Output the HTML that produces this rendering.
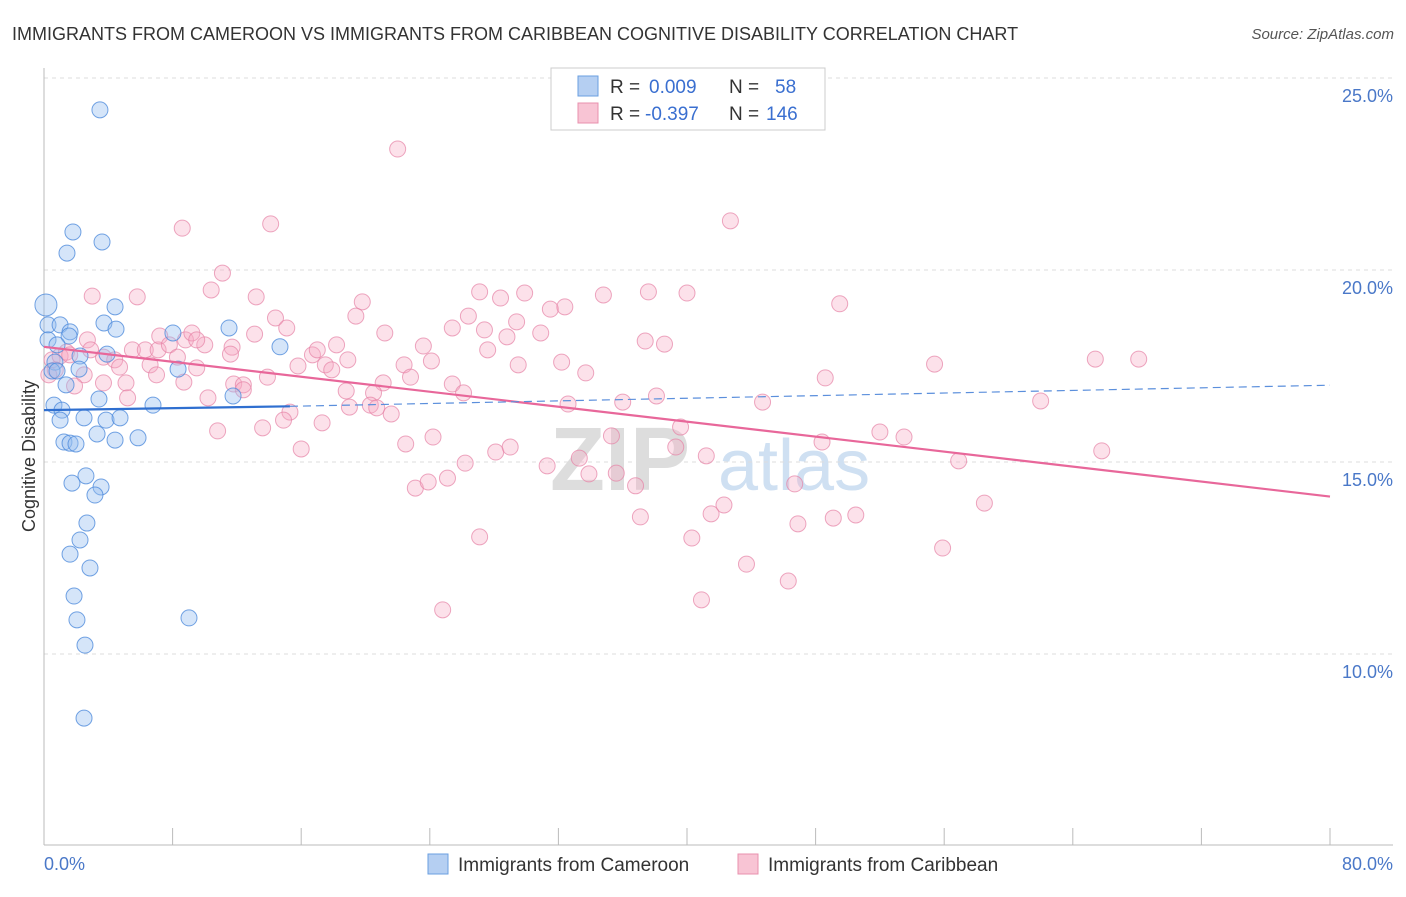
<!DOCTYPE html>
<html><head><meta charset="utf-8"><style>
body{margin:0;background:#fff;font-family:"Liberation Sans",sans-serif}
svg text{font-family:"Liberation Sans",sans-serif}
</style></head><body>
<svg id="chart" width="1406" height="892" viewBox="0 0 1406 892">
<text x="12" y="40" font-size="18" fill="#333">IMMIGRANTS FROM CAMEROON VS IMMIGRANTS FROM CARIBBEAN COGNITIVE DISABILITY CORRELATION CHART</text>
<text x="1394" y="39" font-size="15" fill="#555" font-style="italic" text-anchor="end">Source: ZipAtlas.com</text>
<g><text x="550" y="490" font-size="90" fill="#ddd" font-family="Liberation Serif" font-weight="bold">ZIP</text><text x="718" y="490" font-size="72" fill="#cfe0f2">atlas</text></g>
<g id="grid"></g>
<g id="axes"></g>
<g id="marks"></g>
<text x="35" y="456" font-size="18" fill="#333" text-anchor="middle" transform="rotate(-90 35 456)">Cognitive Disability</text>
<text x="44" y="870" font-size="18" fill="#4a78c8">0.0%</text>
<text x="1393" y="870" font-size="18" fill="#4a78c8" text-anchor="end">80.0%</text>
<g>
<rect x="551" y="68" width="274" height="62" fill="#fff" stroke="#ccc"/>
<rect x="578" y="76" width="20" height="20" fill="#b5cff2" stroke="#6a9fe0"/>
<rect x="578" y="103" width="20" height="20" fill="#f8c4d4" stroke="#e890ae"/>
<text x="610" y="93" font-size="19" fill="#333">R =</text><text x="649" y="93" font-size="19" fill="#3a6fd0">0.009</text>
<text x="729" y="93" font-size="19" fill="#333">N =</text><text x="775" y="93" font-size="19" fill="#3a6fd0">58</text>
<text x="610" y="120" font-size="19" fill="#333">R =</text><text x="645" y="120" font-size="19" fill="#3a6fd0">-0.397</text>
<text x="729" y="120" font-size="19" fill="#333">N =</text><text x="766" y="120" font-size="19" fill="#3a6fd0">146</text>
</g>
<g>
<rect x="428" y="854" width="20" height="20" fill="#b5cff2" stroke="#6a9fe0"/>
<text x="458" y="871" font-size="19" fill="#333">Immigrants from Cameroon</text>
<rect x="738" y="854" width="20" height="20" fill="#f8c4d4" stroke="#e890ae"/>
<text x="768" y="871" font-size="19" fill="#333">Immigrants from Caribbean</text>
</g>
</svg>
<script>
const yTicks=[10,15,20,25];
const yTickLabels=["10.0%","15.0%","20.0%","25.0%"];
const xTicks=[0,8,16,24,32,40,48,56,64,72,80];
const blueX=[3.48,1.8,3.61,1.43,0.12,4.42,0.25,1.0,3.73,4.48,1.62,1.56,8.02,11.51,0.25,0.81,3.92,2.24,0.68,0.5,0.81,8.34,2.18,1.37,14.68,11.76,3.42,0.62,6.78,1.12,1.0,2.49,3.86,4.73,3.3,1.24,1.62,1.99,4.42,5.85,2.61,1.74,3.55,3.17,2.67,2.24,1.62,2.86,1.87,2.05,9.02,2.55,2.49];
const blueY=[24.17,20.99,20.73,20.44,19.09,19.04,18.57,18.57,18.62,18.46,18.39,18.28,18.36,18.49,18.18,18.05,17.81,17.76,17.6,17.37,17.37,17.42,17.42,17.01,18.0,16.72,16.64,16.48,16.48,16.35,16.09,16.15,16.09,16.15,15.73,15.52,15.49,15.47,15.57,15.63,14.64,14.45,14.35,14.14,13.41,12.97,12.6,12.24,11.51,10.89,10.94,10.23,8.33];
const pinkX=[22.0,42.7,8.6,14.1,11.1,3.0,5.8,10.4,13.2,19.8,27.1,28.4,29.9,31.5,32.4,34.8,37.6,40.0,49.5,19.4,14.4,15.1,26.4,27.4,29.4,30.9,21.2,23.6,25.4,28.8,37.4,38.6,27.6,32.2,29.5,33.7,24.1,22.4,22.8,25.4,26.1,21.1,20.5,18.8,20.3,20.7,21.6,19.0,17.3,15.3,14.9,13.6,11.8,12.4,13.9,10.2,10.8,16.0,22.5,24.2,23.1,23.9,25.1,26.2,28.1,29.0,31.3,33.3,33.9,35.6,36.8,35.3,32.6,36.0,38.1,39.6,39.3,41.2,41.5,42.3,37.1,40.3,43.7,46.3,40.9,24.8,27.1,44.7,46.7,46.9,49.1,50.5,48.4,48.6,52.0,53.5,55.4,56.9,55.9,58.5,62.0,65.4,68.1,65.8,2.7,3.7,4.4,4.7,5.5,6.3,7.1,7.2,7.8,8.8,9.2,10.0,9.5,8.3,6.6,5.1,3.7,2.5,1.9,0.5,1.0,1.4,0.7,0.3,1.6,5.2,7.0,8.7,11.7,12.4,15.8,16.7,17.5,17.9,17.0,18.2,18.9,11.6,13.1,9.5,2.9];
const pinkY=[23.15,21.28,21.09,21.2,19.92,19.32,19.3,19.48,19.3,19.17,19.43,19.27,19.4,18.98,19.04,19.35,19.43,19.4,19.12,18.8,18.75,18.49,18.8,18.44,18.65,18.36,18.36,18.02,18.49,18.26,18.15,18.07,17.92,17.6,17.53,17.32,17.63,17.53,17.21,17.03,16.8,17.06,16.8,16.85,16.48,16.41,16.25,16.43,16.02,16.3,16.09,15.89,17.03,17.01,17.21,16.67,15.81,15.34,15.47,15.65,14.32,14.48,14.58,14.97,15.26,15.39,14.9,15.1,14.69,14.71,14.38,15.68,16.51,16.56,16.72,15.91,15.39,15.16,13.65,13.88,13.57,13.02,12.34,11.9,11.41,11.15,13.05,16.56,14.43,13.39,13.54,13.62,15.52,17.19,15.78,15.65,17.55,15.03,12.76,13.93,16.59,17.68,17.68,15.29,18.18,17.73,17.66,17.47,17.92,17.92,17.92,18.28,18.05,18.18,18.36,18.05,17.45,17.73,17.53,17.06,17.06,17.27,16.98,17.66,17.76,17.86,17.4,17.27,17.79,16.67,17.27,17.08,17.99,16.88,17.5,17.79,17.53,17.4,17.92,18.05,17.66,17.81,18.33,18.18,17.92];
const pinkTrendX=[0,80];
const pinkTrendY=[18.0,14.1];
const blueTrendX=[0,15.3,80];
const blueTrendY=[16.35,16.45,17.0];

const NS="http://www.w3.org/2000/svg";
function sx(v){return 44+v*(1286/80);}
function sy(v){return 78+(25-v)*38.4;}
function mk(tag,attrs,parent){const e=document.createElementNS(NS,tag);for(const k in attrs)e.setAttribute(k,attrs[k]);parent.appendChild(e);return e;}
const grid=document.getElementById('grid'),axes=document.getElementById('axes'),marks=document.getElementById('marks');
yTicks.forEach((t,i)=>{
  const l=mk('line',{x1:44,x2:1393,y1:sy(t),y2:sy(t),stroke:'#ddd','stroke-dasharray':'4,4'},grid);
  
  
  const tx=mk('text',{x:1393,y:sy(t)+24,'font-size':18,fill:'#4a78c8','text-anchor':'end'},axes);
  tx.textContent=yTickLabels[i];
  
  
});
const ya=mk('line',{x1:44,x2:44,y1:68,y2:845,stroke:'#bbb'},axes);


const xa=mk('line',{x1:44,x2:1393,y1:845,y2:845,stroke:'#bbb'},axes);


xTicks.forEach(t=>{
  const l=mk('line',{x1:sx(t),x2:sx(t),y1:828,y2:845,stroke:'#bbb'},axes);
  
  
});
pinkX.forEach((x,i)=>{
  const c=mk('circle',{cx:sx(x),cy:sy(pinkY[i]),r:8,fill:'rgba(245,170,195,0.35)',stroke:'rgba(230,130,165,0.7)','stroke-width':1},marks);
  
  
});
blueX.forEach((x,i)=>{
  const c=mk('circle',{cx:sx(x),cy:sy(blueY[i]),r:i===4?11:8,fill:'rgba(150,190,240,0.4)',stroke:'rgba(80,140,220,0.8)','stroke-width':1},marks);
  
  
});
const pt=mk('line',{x1:sx(pinkTrendX[0]),y1:sy(pinkTrendY[0]),x2:sx(pinkTrendX[1]),y2:sy(pinkTrendY[1]),stroke:'#e8679a','stroke-width':2.2},marks);


const bt=mk('line',{x1:sx(blueTrendX[0]),y1:sy(blueTrendY[0]),x2:sx(blueTrendX[1]),y2:sy(blueTrendY[1]),stroke:'#2f6fd0','stroke-width':2.2},marks);


const bd=mk('line',{x1:sx(blueTrendX[1]),y1:sy(blueTrendY[1]),x2:sx(blueTrendX[2]),y2:sy(blueTrendY[2]),stroke:'#5b8fdc','stroke-width':1.2,'stroke-dasharray':'8,5'},marks);


</script>
</body></html>
